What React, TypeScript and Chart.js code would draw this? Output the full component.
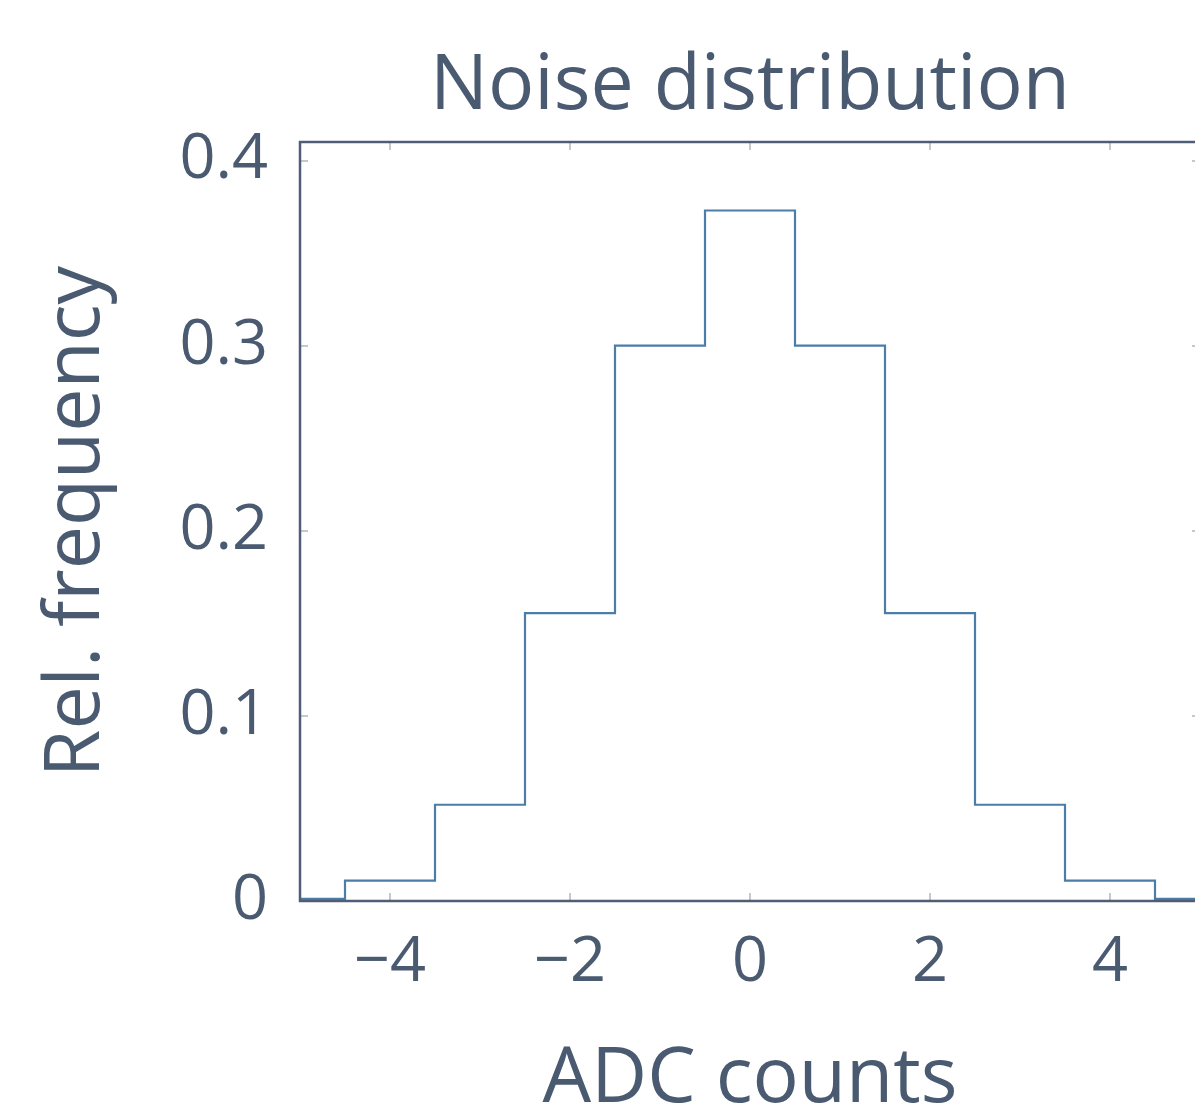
import React, { useEffect, useRef } from "react";
import { Chart, registerables } from "chart.js";

Chart.register(...registerables);

const binCenters = [-5, -4, -3, -2, -1, 0, 1, 2, 3, 4, 5];
const relFrequency = [0.0012, 0.011, 0.052, 0.1555, 0.3, 0.373, 0.3, 0.1555, 0.052, 0.011, 0.0012];
const xTickValues = [-4, -2, 0, 2, 4];
const yTickValues = [0, 0.1, 0.2, 0.3, 0.4];

const TEXT = "#4a5a70";
const FRAME = "#4f5d75";
const LINE = "#4c7ca8";
const TICK = "#c4c8cf";
const FONT = "'Open Sans', 'Noto Sans', sans-serif";

const fmt = (v: number) => {
  if (v === 0) return "0";
  const s = Math.abs(v) < 1 ? String(Math.round(v * 10) / 10) : String(v);
  return s.replace("-", "\u2212");
};

const framePlugin = {
  id: "frameAndTicks",
  afterDatasetsDraw(chart: any) {
    const { ctx, chartArea: a, scales } = chart;
    const xs = scales.x;
    const ys = scales.y;
    const L = 8;
    ctx.save();
    ctx.strokeStyle = TICK;
    ctx.lineWidth = 2;
    ctx.beginPath();
    for (const v of xTickValues) {
      const px = Math.round(xs.getPixelForValue(v));
      ctx.moveTo(px, a.bottom);
      ctx.lineTo(px, a.bottom - L);
      ctx.moveTo(px, a.top);
      ctx.lineTo(px, a.top + L);
    }
    for (const v of yTickValues) {
      if (v === 0) continue;
      const py = Math.round(ys.getPixelForValue(v));
      ctx.moveTo(a.left, py);
      ctx.lineTo(a.left + L, py);
      ctx.moveTo(a.right, py);
      ctx.lineTo(a.right - L, py);
    }
    ctx.stroke();
    ctx.strokeStyle = FRAME;
    ctx.lineWidth = 2.5;
    ctx.strokeRect(a.left, a.top, a.right - a.left, a.bottom - a.top);
    ctx.restore();
  },
};

export default function App() {
  const ref = useRef<HTMLCanvasElement | null>(null);

  useEffect(() => {
    if (!ref.current) return;
    const chart = new Chart(ref.current, {
      type: "line",
      data: {
        datasets: [
          {
            data: binCenters.map((x, i) => ({ x, y: relFrequency[i] })),
            borderColor: LINE,
            borderWidth: 2.2,
            stepped: "middle",
            pointRadius: 0,
            fill: false,
          },
        ],
      },
      options: {
        animation: false,
        responsive: false,
        layout: { padding: { left: 0, right: 20, top: 0, bottom: 0 } },
        plugins: {
          legend: { display: false },
          tooltip: { enabled: false },
          title: {
            display: true,
            text: "Noise distribution",
            fullSize: false,
            color: TEXT,
            font: { family: FONT, size: 77, weight: "normal", lineHeight: 1.2 },
            padding: { top: 41, bottom: 8.6 },
          },
        },
        scales: {
          x: {
            type: "linear",
            min: -5,
            max: 5,
            afterFit: (s: any) => {
              s.height = 229;
            },
            afterBuildTicks: (s: any) => {
              s.ticks = xTickValues.map((v) => ({ value: v }));
            },
            grid: { display: false, drawTicks: false },
            border: { display: false },
            ticks: {
              color: TEXT,
              padding: 24,
              font: { family: FONT, size: 63, lineHeight: 1.2 },
              callback: (v: any) => fmt(Number(v)),
              maxRotation: 0,
            },
            title: {
              display: true,
              text: "ADC counts",
              color: TEXT,
              font: { family: FONT, size: 77, lineHeight: 1.2 },
              padding: { top: 0, bottom: 4 },
            },
          },
          y: {
            type: "linear",
            min: 0,
            max: 0.41,
            afterFit: (s: any) => {
              s.width = 300;
            },
            afterBuildTicks: (s: any) => {
              s.ticks = yTickValues.map((v) => ({ value: v }));
            },
            grid: { display: false, drawTicks: false },
            border: { display: false },
            ticks: {
              color: TEXT,
              padding: 32,
              font: { family: FONT, size: 63, lineHeight: 1.2 },
              callback: (v: any) => fmt(Number(v)),
            },
            title: {
              display: true,
              text: "Rel. frequency",
              color: TEXT,
              font: { family: FONT, size: 77, lineHeight: 1.2 },
              padding: { top: 31, bottom: 0 },
            },
          },
        },
      },
      plugins: [framePlugin],
    });
    return () => chart.destroy();
  }, []);

  return (
    <div
      style={{
        position: "fixed",
        left: 0,
        top: 0,
        width: 1195,
        height: 1106,
        overflow: "hidden",
        background: "#fff",
      }}
    >
      <canvas ref={ref} width={1220} height={1130} style={{ display: "block" }} />
    </div>
  );
}
